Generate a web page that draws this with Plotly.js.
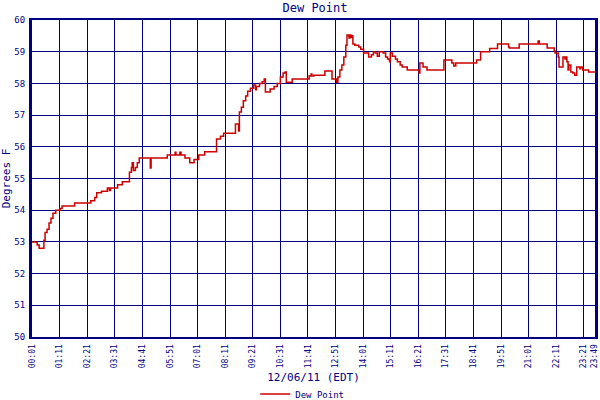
<!DOCTYPE html>
<html>
<head>
<meta charset="utf-8">
<script src="https://cdn.plot.ly/plotly-3.0.1.min.js"></script>
<style>html,body{margin:0;padding:0;background:#fff}#chart{width:600px;height:400px}</style>
</head>
<body>
<div id="chart"></div>
<script>
// minutes since midnight, 12/06/11 (EDT)
const minutes = [1,14,19,29,31,34,39,44,49,54,61,72,77,109,147,150,160,165,177,192,197,200,218,230,248,253,255,258,263,268,273,298,301,303,341,344,364,366,376,379,389,401,406,412,424,439,467,469,479,487,515,517,522,525,527,532,537,543,548,555,563,568,570,578,585,590,593,605,615,623,631,638,643,646,661,701,704,709,711,716,744,762,774,777,782,787,792,797,800,805,807,810,812,815,820,830,835,842,855,862,867,872,877,882,892,898,903,908,910,915,923,928,935,940,953,983,985,993,1003,1046,1066,1071,1076,1129,1139,1162,1182,1207,1210,1212,1237,1282,1285,1288,1308,1326,1328,1336,1338,1348,1353,1356,1358,1361,1363,1368,1373,1378,1383,1391,1393,1398,1413,1429];
const dewPoint = [53.0,52.9,52.8,52.8,53.05,53.3,53.4,53.6,53.75,53.9,54.0,54.05,54.13,54.23,54.23,54.3,54.4,54.55,54.6,54.7,54.62,54.7,54.8,54.9,55.2,55.35,55.5,55.25,55.35,55.5,55.65,55.65,55.33,55.65,55.65,55.74,55.83,55.74,55.83,55.74,55.65,55.5,55.5,55.6,55.74,55.84,55.84,56.25,56.33,56.43,56.43,56.72,56.72,56.5,57.1,57.25,57.45,57.6,57.75,57.85,57.95,57.8,57.9,58.0,58.05,58.14,57.73,57.82,57.9,58.0,58.2,58.33,58.36,58.04,58.14,58.14,58.23,58.3,58.23,58.26,58.39,58.14,58.04,58.2,58.42,58.58,58.83,59.2,59.53,59.43,59.53,59.45,59.5,59.24,59.2,59.15,59.08,58.96,58.83,58.9,59.0,58.96,58.86,59.0,58.96,58.83,58.77,58.68,58.96,58.86,58.77,58.68,58.58,58.52,58.42,58.33,58.64,58.52,58.42,58.74,58.64,58.55,58.64,58.74,59.0,59.1,59.24,59.24,59.15,59.12,59.24,59.24,59.34,59.24,59.12,59.02,58.96,58.83,58.52,58.83,58.77,58.83,58.68,58.42,58.58,58.36,58.33,58.26,58.52,58.46,58.52,58.42,58.36,58.36];
const tickMinutes = [1,71,141,211,281,351,421,491,561,631,701,771,841,911,981,1051,1121,1191,1261,1331,1401,1429];
const tickLabels = ["00:01","01:11","02:21","03:31","04:41","05:51","07:01","08:11","09:21","10:31","11:41","12:51","14:01","15:11","16:21","17:31","18:41","19:51","21:01","22:11","23:21","23:49"];
const yTicks = [50,51,52,53,54,55,56,57,58,59,60];

const navy = '#000080';
const mono = 'DejaVu Sans Mono, monospace';

const trace = {
  x: minutes, y: dewPoint, type: 'scatter', mode: 'lines',
  name: 'Dew Point',
  line: {color: '#cc0000', width: 1.5, shape: 'hv'}
};

const layout = {
  width: 600, height: 400,
  margin: {l: 32, r: 5, t: 20, b: 63, autoexpand: false},
  paper_bgcolor: '#ffffff', plot_bgcolor: '#ffffff',
  title: {text: 'Dew Point', font: {family: mono, size: 12, color: navy}, x: 0.525, xanchor: 'center', y: 0.99, yanchor: 'top'},
  font: {family: mono, color: navy},
  xaxis: {
    range: [0.8, 1429.3], tickmode: 'array', tickvals: tickMinutes, ticktext: tickLabels,
    tickangle: -90, tickfont: {family: mono, size: 8, color: navy},
    showgrid: true, gridcolor: navy, gridwidth: 1,
    showline: true, linecolor: navy, linewidth: 2, mirror: true,
    ticks: '', zeroline: false, automargin: false, ticklabelstandoff: 2,
    ticklabeloverflow: 'allow',
    title: {text: '12/06/11 (EDT)', font: {family: mono, size: 11, color: navy}, standoff: 6}
  },
  yaxis: {
    range: [50, 60], tickmode: 'array', tickvals: yTicks,
    tickfont: {family: mono, size: 9, color: navy},
    showgrid: true, gridcolor: navy, gridwidth: 1,
    showline: true, linecolor: navy, linewidth: 3, mirror: true,
    ticks: '', zeroline: false, ticklabelstandoff: 2, automargin: false,
    title: {text: 'Degrees F', font: {family: mono, size: 11, color: navy}, standoff: 2}
  },
  showlegend: true,
  legend: {orientation: 'h', x: 0.48, xanchor: 'center', y: -0.18, yanchor: 'middle',
           font: {family: mono, size: 9, color: navy}, itemwidth: 30, bgcolor: 'rgba(0,0,0,0)'}
};

Plotly.newPlot('chart', [trace], layout, {displayModeBar: false, staticPlot: true});
</script>
</body>
</html>
